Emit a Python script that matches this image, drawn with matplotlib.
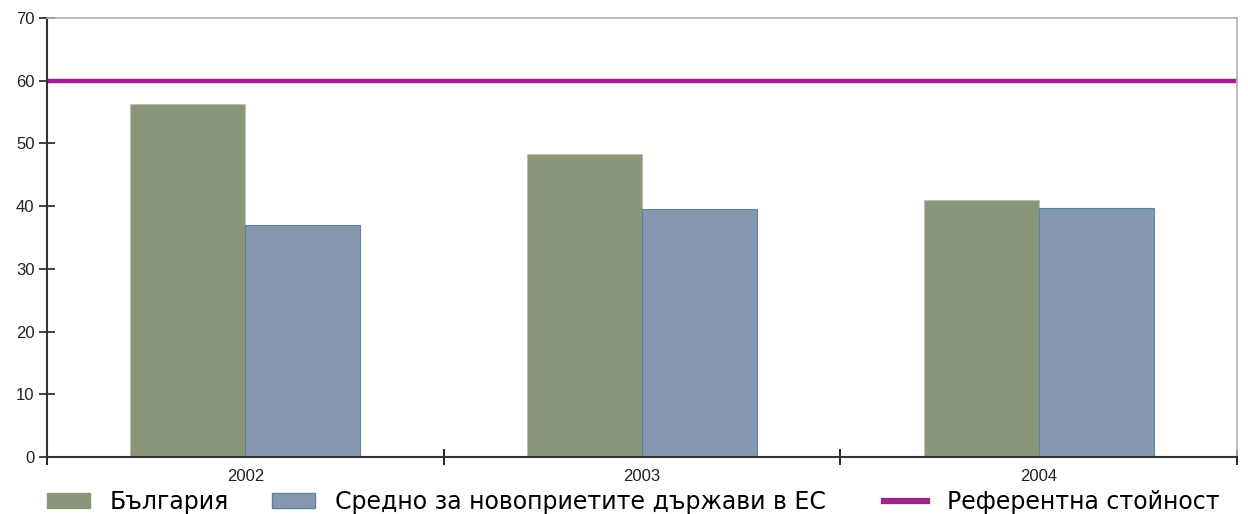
import numpy as np
import matplotlib
matplotlib.use("Agg")
import matplotlib.pyplot as plt
from matplotlib.patches import Patch
from matplotlib.lines import Line2D

years = ["2002", "2003", "2004"]
bulgaria = [56.3, 48.3, 41.0]
new_members = [37.0, 39.5, 39.7]
reference = 60

labels = ["България", "Средно за новоприетите държави в ЕС", "Референтна стойност"]
green = "#8a967a"
blue = "#8499b0"
purple = "#a3218f"

plt.rcParams['font.family'] = ['Liberation Sans', 'DejaVu Sans']

fig = plt.figure(figsize=(12.48, 5.14), dpi=100)
ax = fig.add_axes([0.0377, 0.111, 0.9535, 0.854])

x = np.arange(len(years))
w = 0.29
ax.bar(x - w / 2, bulgaria, w, color=green, edgecolor="#b8c0ae", linewidth=0.8)
ax.bar(x + w / 2, new_members, w, color=blue, edgecolor="#5f80a3", linewidth=0.8)
ax.axhline(reference, color=purple, linewidth=3.2)

ax.set_xlim(-0.5, len(years) - 0.5)
ax.set_ylim(0, 70)
ax.set_yticks(range(0, 71, 10))
ax.set_xticks(x)
ax.set_xticklabels(years)
ax.set_xticks(np.arange(len(years) + 1) - 0.5, minor=True)
ax.tick_params(axis="x", which="major", length=0, pad=9, labelsize=12, colors="#222222")
ax.tick_params(axis="x", which="minor", direction="inout", length=12, width=1.2)
ax.tick_params(axis="y", direction="inout", length=12, width=1.2, labelsize=12, colors="#222222", pad=3)

for s in ["left", "bottom"]:
    ax.spines[s].set_color("#333333")
    ax.spines[s].set_linewidth(1.5)
for s in ["top", "right"]:
    ax.spines[s].set_color("#b0b0b0")
    ax.spines[s].set_linewidth(1.2)

# legend: one entry per legend so each can sit where the original puts it
handles = [
    Patch(facecolor=green, edgecolor=green),
    Patch(facecolor=blue, edgecolor="#5f80a3"),
    Line2D([0], [0], color=purple, linewidth=4.5),
]
x_pos = [47 / 1248, 272 / 1248, 884 / 1248]
for h, lab, xp in zip(handles, labels, x_pos):
    fig.legend([h], [lab], loc="center left", bbox_to_anchor=(xp, 0.0233),
               frameon=False, borderpad=0, borderaxespad=0,
               prop={"family": "DejaVu Sans", "size": 17},
               handlelength=1.82, handleheight=0.6, handletextpad=0.85)

fig.savefig("out.png", dpi=100)
